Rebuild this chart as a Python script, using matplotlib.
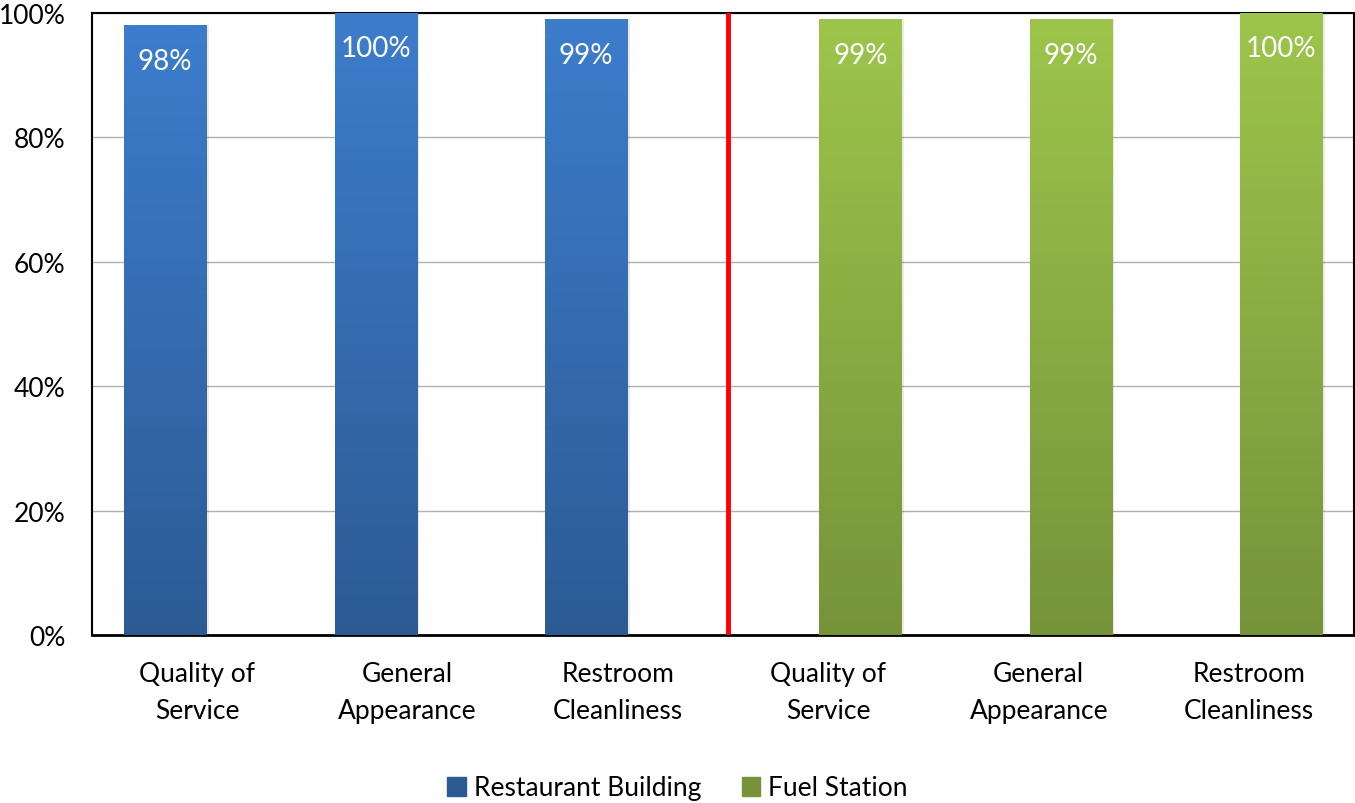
import numpy as np
import matplotlib
matplotlib.use("Agg")
import matplotlib.pyplot as plt
from matplotlib.colors import LinearSegmentedColormap
from matplotlib.patches import Rectangle

plt.rcParams['font.family'] = ['Lato', 'DejaVu Sans']

categories = ["Quality of\nService", "General\nAppearance", "Restroom\nCleanliness",
              "Quality of\nService", "General\nAppearance", "Restroom\nCleanliness"]
restaurant = [98, 100, 99, None, None, None]
fuel = [None, None, None, 99, 99, 100]
series_names = ["Restaurant Building", "Fuel Station"]
y_ticks = [0, 20, 40, 60, 80, 100]

blue_top, blue_bot = "#3D7DCC", "#2C5B94"
green_top, green_bot = "#9DC54B", "#76933A"

fig = plt.figure(figsize=(13.55, 8.04), dpi=100)
ax = fig.add_axes([92/1355, 1-636/804, 1-92/1355 - 0.0005, 622/804])

x = np.arange(len(categories))
bar_w = 0.39
offset = 0.152

def gradient_bar(xc, h, ctop, cbot):
    cmap = LinearSegmentedColormap.from_list("g", [cbot, ctop])
    grad = np.linspace(0, 1, 256).reshape(-1, 1)
    # soft shadow on the right side
    sh = Rectangle((xc - bar_w/2 + 0.012, 0), bar_w, h, color="#000000", alpha=0.08, lw=0, zorder=2)
    ax.add_patch(sh)
    im = ax.imshow(grad, cmap=cmap, origin="lower", aspect="auto",
                   extent=(xc - bar_w/2, xc + bar_w/2, 0, h), zorder=3)
    clip = Rectangle((xc - bar_w/2, 0), bar_w, h, transform=ax.transData, fc="none", ec="none")
    ax.add_patch(clip)
    im.set_clip_path(clip)
    ax.text(xc, h - 5.7, f"{h:.0f}%", ha="center", va="center", color="white",
            fontsize=20, zorder=5)

for i in range(len(categories)):
    if restaurant[i] is not None:
        gradient_bar(x[i] - offset, restaurant[i], blue_top, blue_bot)
    if fuel[i] is not None:
        gradient_bar(x[i] + offset, fuel[i], green_top, green_bot)

# divider between the two facility groups
ax.axvline(2.521, color="#FF0000", lw=3.5, zorder=4)

ax.set_xlim(-0.5, 5.5)
ax.set_ylim(0, 100)
ax.set_yticks(y_ticks)
ax.set_yticklabels([f"{v}%" for v in y_ticks], fontsize=19)
ax.yaxis.grid(True, color="#B0B0B0", lw=1)
ax.set_axisbelow(True)
ax.tick_params(axis="y", length=0, pad=19)
ax.set_xticks(x)
ax.set_xticklabels(categories, fontsize=19, linespacing=1.58)
ax.tick_params(axis="x", length=0, pad=19)
for s in ax.spines.values():
    s.set_color("black")
    s.set_linewidth(1.5)
ax.spines["bottom"].set_linewidth(2)

# legend swatches
handles = [Rectangle((0, 0), 1, 1, color=blue_bot), Rectangle((0, 0), 1, 1, color=green_bot)]
fig.legend(handles, series_names, loc="center", bbox_to_anchor=(0.5, 1-789/804), ncol=2,
           frameon=False, fontsize=19, handlelength=0.7, handleheight=0.7,
           handletextpad=0.3, columnspacing=1.55)

fig.savefig("out.png", dpi=100)
